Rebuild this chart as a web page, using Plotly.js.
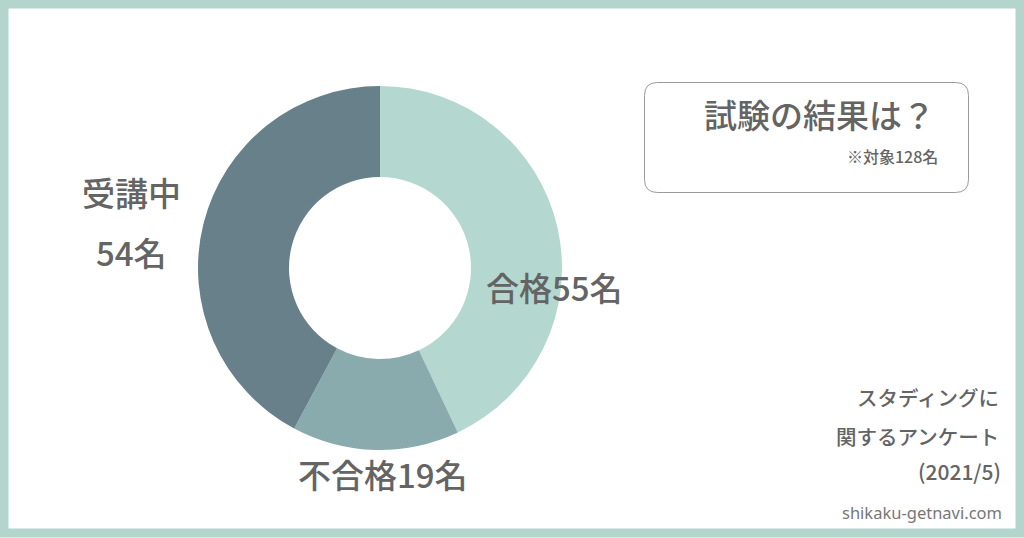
<!DOCTYPE html>
<html>
<head>
<meta charset="utf-8">
<script src="https://cdn.plot.ly/plotly-3.0.1.min.js"></script>
<style>html,body{margin:0;padding:0;background:#fff;} #chart{width:1024px;height:538px;}</style>
</head>
<body>
<div id="chart"></div>
<script>
const categories = ["合格", "不合格", "受講中"];
const values = [55, 19, 54];
const colors = ["#b4d7cf", "#8aabae", "#67808a"];
const labelTexts = ["合格55名", "不合格19名", "受講中", "54名"];
const titleText = "試験の結果は？";
const noteText = "※対象128名";
const sourceLines = ["スタディングに", "関するアンケート", "(2021/5)"];
const siteText = "shikaku-getnavi.com";

const W = 1024, H = 538;
const px = x => x / W;
const py = y => 1 - y / H;
const FONT = "'Noto Sans CJK JP', 'Noto Sans', sans-serif";
const TXT = "#646464";

function roundRect(x0, y0, x1, y1, r) {
  const X = v => px(v), Y = v => py(v);
  return `M ${X(x0 + r)} ${Y(y0)} L ${X(x1 - r)} ${Y(y0)} Q ${X(x1)} ${Y(y0)} ${X(x1)} ${Y(y0 + r)} ` +
         `L ${X(x1)} ${Y(y1 - r)} Q ${X(x1)} ${Y(y1)} ${X(x1 - r)} ${Y(y1)} ` +
         `L ${X(x0 + r)} ${Y(y1)} Q ${X(x0)} ${Y(y1)} ${X(x0)} ${Y(y1 - r)} ` +
         `L ${X(x0)} ${Y(y0 + r)} Q ${X(x0)} ${Y(y0)} ${X(x0 + r)} ${Y(y0)} Z`;
}

const trace = {
  type: "pie",
  labels: categories,
  values: values,
  hole: 0.5,
  sort: false,
  direction: "clockwise",
  rotation: 0,
  textinfo: "none",
  hoverinfo: "label+value",
  marker: { colors: colors, line: { width: 0 } },
  domain: { x: [px(198), px(562)], y: [py(450), py(86)] },
  showlegend: false
};

const ann = (x, y, text, size, opts = {}) => Object.assign({
  xref: "paper", yref: "paper", x: px(x), y: py(y), text: text, showarrow: false,
  font: { family: FONT, size: size, color: TXT, weight: 500 }, xanchor: "center", yanchor: "middle"
}, opts);

const annotations = [
  ann(554, 287, labelTexts[0], 33),
  ann(383, 474, labelTexts[1], 33),
  ann(131, 192, labelTexts[2], 33),
  ann(131, 252, labelTexts[3], 33),
  ann(937, 114, titleText, 33, { xanchor: "right" }),
  ann(940, 156, noteText, 16, { xanchor: "right" }),
  ann(1001, 397, sourceLines[0], 20.5, { xanchor: "right" }),
  ann(1001, 436, sourceLines[1], 20.5, { xanchor: "right" }),
  ann(1003, 471, sourceLines[2], 21, { xanchor: "right" }),
  ann(1004, 512, siteText, 16.5, { xanchor: "right", font: { family: "'Noto Sans', sans-serif", size: 16.5, color: "#777777" } })
];

const shapes = [
  { type: "rect", xref: "paper", yref: "paper", x0: px(4), x1: px(1020), y0: py(4), y1: py(533),
    line: { color: "#b3d5cb", width: 9 }, fillcolor: "rgba(0,0,0,0)" },
  { type: "path", xref: "paper", yref: "paper", path: roundRect(644.5, 82.5, 968.5, 192.5, 13),
    line: { color: "#9a9a9a", width: 1 }, fillcolor: "rgba(0,0,0,0)" }
];

const layout = {
  width: W, height: H,
  margin: { l: 0, r: 0, t: 0, b: 0 },
  paper_bgcolor: "#ffffff",
  annotations: annotations,
  shapes: shapes,
  showlegend: false
};

Plotly.newPlot("chart", [trace], layout, { displayModeBar: false, staticPlot: true });
</script>
</body>
</html>
